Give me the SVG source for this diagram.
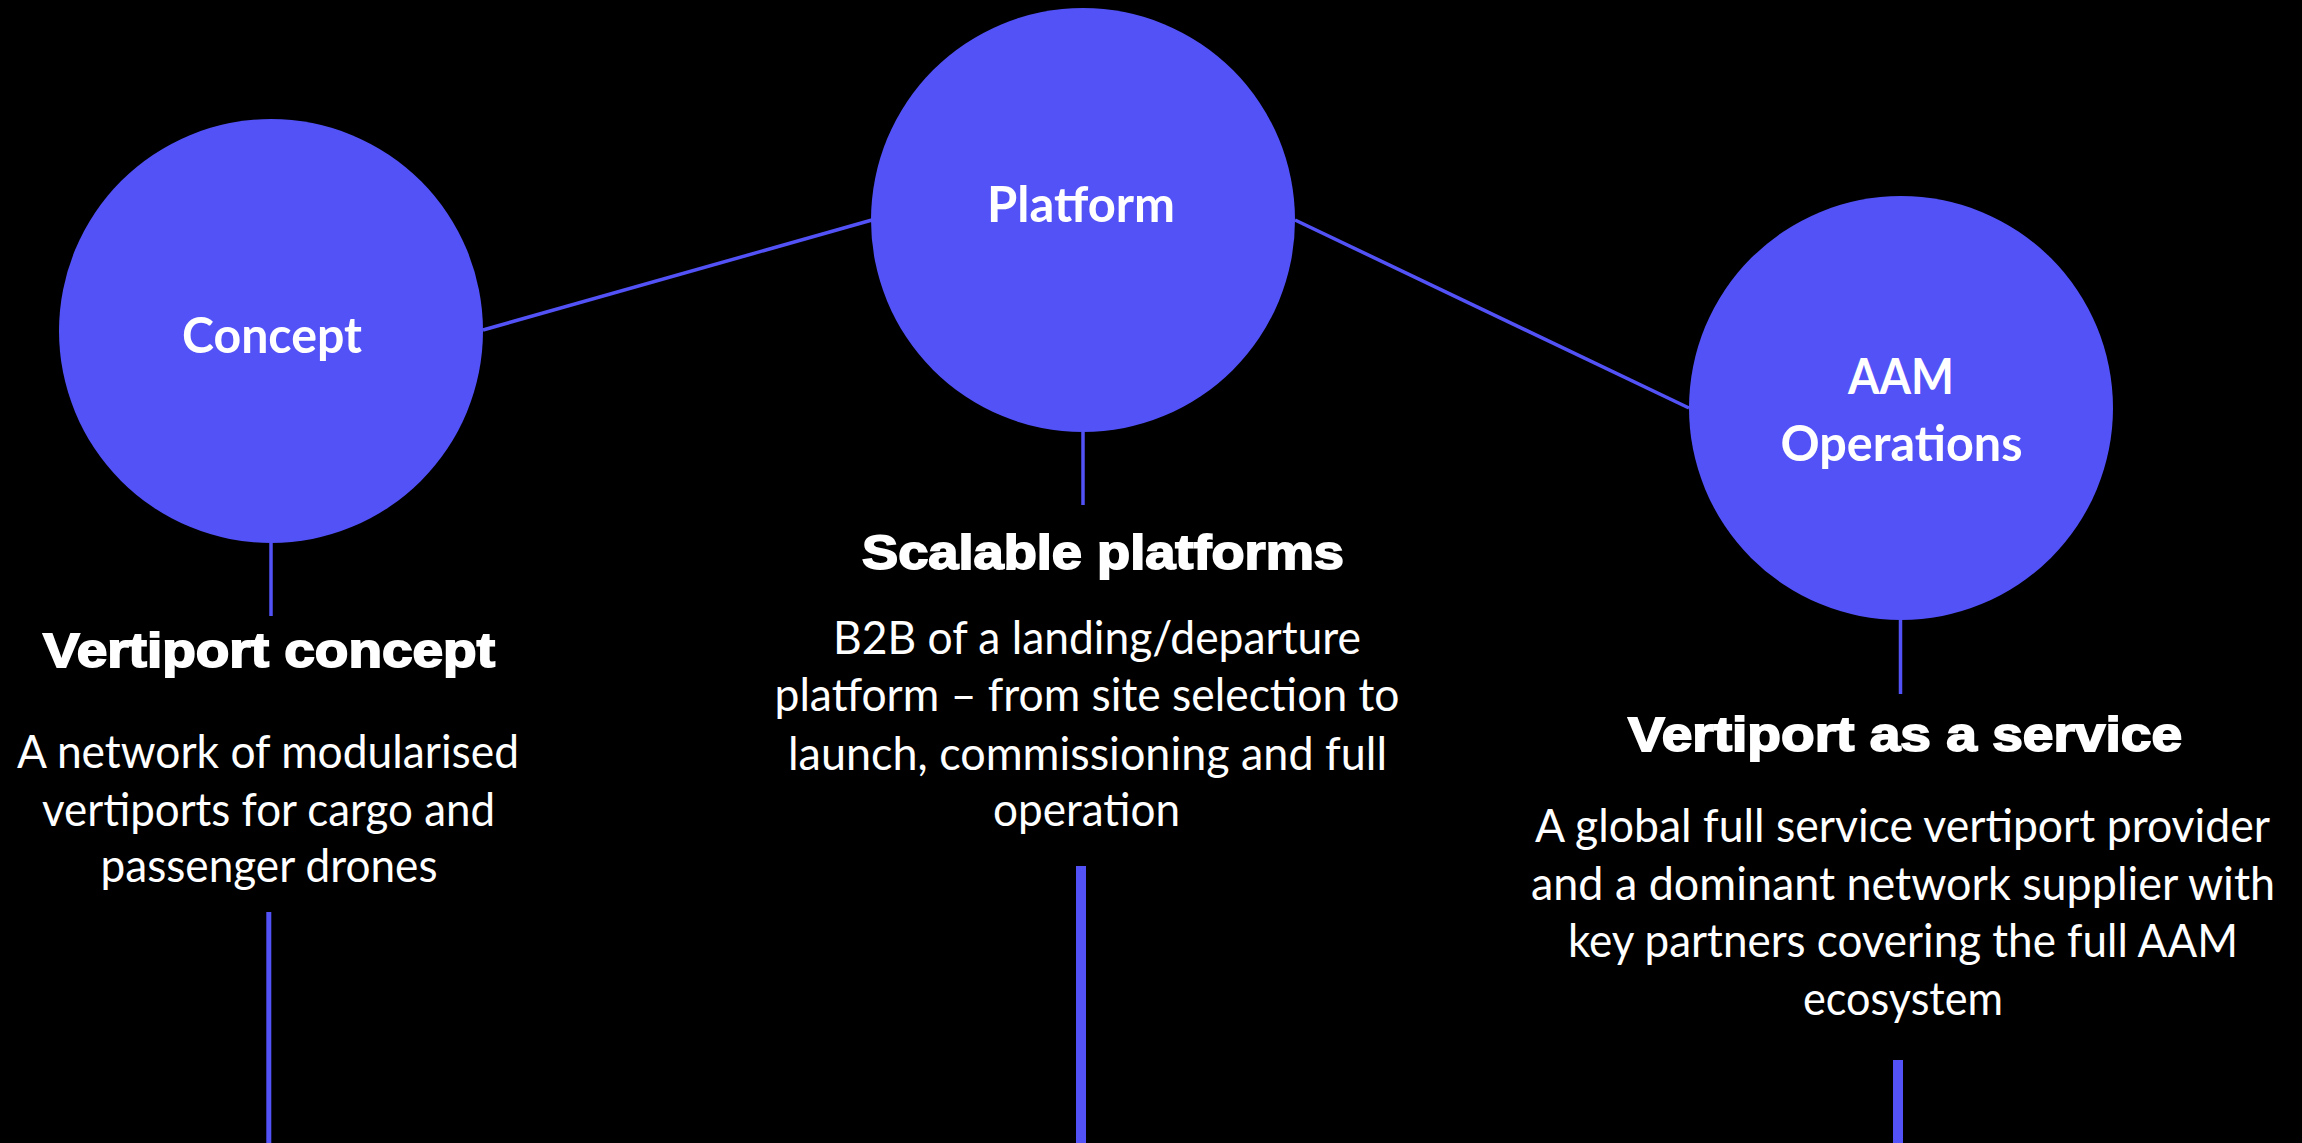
<svg xmlns="http://www.w3.org/2000/svg" width="2302" height="1143" viewBox="0 0 2302 1143">
  <style>
    .bg { fill: #000000; }
    .node { fill: #5252F7; }
    .conn { stroke: #5252F7; fill: none; }
    .thin { stroke-width: 3.5; }
    .thick5 { stroke-width: 5; }
    .thick10 { stroke-width: 10; }
    .label { font-family: Lato, "Liberation Sans", sans-serif; font-weight: bold; font-size: 50px; fill: #FFFFFF; text-anchor: middle; }
    .head { font-family: "Liberation Sans", Arial, sans-serif; font-weight: bold; font-size: 49px; fill: #FFFFFF; stroke: #FFFFFF; stroke-width: 1.8; text-anchor: middle; }
    .body { font-family: Lato, "Liberation Sans", sans-serif; font-size: 46px; fill: #FFFFFF; text-anchor: middle; }
  </style>
  <rect class="bg" x="0" y="0" width="2302" height="1143"/>

  <g id="connectors">
    <line class="conn thin" x1="483" y1="330" x2="872" y2="220"/>
    <line class="conn thin" x1="1295" y1="220" x2="1689" y2="408"/>
    <line class="conn thin" x1="271" y1="543" x2="271" y2="616"/>
    <line class="conn thin" x1="1083" y1="432" x2="1083" y2="505"/>
    <line class="conn thin" x1="1900.5" y1="620" x2="1900.5" y2="694"/>
    <line class="conn thick5" x1="268.8" y1="912" x2="268.8" y2="1143"/>
    <line class="conn thick10" x1="1081" y1="866" x2="1081" y2="1143"/>
    <line class="conn thick10" x1="1898" y1="1060" x2="1898" y2="1143"/>
  </g>

  <g id="node-concept">
    <circle class="node" cx="271" cy="331" r="212"/>
    <text class="label" x="272" y="353" textLength="180" lengthAdjust="spacingAndGlyphs">Concept</text>
  </g>

  <g id="node-platform">
    <circle class="node" cx="1083" cy="220" r="212"/>
    <text class="label" x="1081" y="222" textLength="188" lengthAdjust="spacingAndGlyphs">Platform</text>
  </g>

  <g id="node-aam">
    <circle class="node" cx="1901" cy="408" r="212"/>
    <text class="label" x="1901" y="394" textLength="106" lengthAdjust="spacingAndGlyphs">AAM</text>
    <text class="label" x="1901.5" y="461" textLength="242" lengthAdjust="spacingAndGlyphs">Operations</text>
  </g>

  <g id="text-concept">
    <text class="head" x="269" y="667" textLength="452" lengthAdjust="spacingAndGlyphs">Vertiport concept</text>
    <text class="body" x="268" y="768" textLength="502" lengthAdjust="spacingAndGlyphs">A network of modularised</text>
    <text class="body" x="268.5" y="826" textLength="453" lengthAdjust="spacingAndGlyphs">vertiports for cargo and</text>
    <text class="body" x="269" y="882" textLength="337" lengthAdjust="spacingAndGlyphs">passenger drones</text>
  </g>

  <g id="text-platform">
    <text class="head" x="1103" y="569" textLength="482" lengthAdjust="spacingAndGlyphs">Scalable platforms</text>
    <text class="body" x="1097" y="654" textLength="528" lengthAdjust="spacingAndGlyphs">B2B of a landing/departure</text>
    <text class="body" x="1087" y="711" textLength="625" lengthAdjust="spacingAndGlyphs">platform – from site selection to</text>
    <text class="body" x="1087.5" y="769.5" textLength="599" lengthAdjust="spacingAndGlyphs">launch, commissioning and full</text>
    <text class="body" x="1086.5" y="826" textLength="187" lengthAdjust="spacingAndGlyphs">operation</text>
  </g>

  <g id="text-aam">
    <text class="head" x="1905" y="751" textLength="554" lengthAdjust="spacingAndGlyphs">Vertiport as a service</text>
    <text class="body" x="1902.5" y="842" textLength="735" lengthAdjust="spacingAndGlyphs">A global full service vertiport provider</text>
    <text class="body" x="1903" y="899.5" textLength="744" lengthAdjust="spacingAndGlyphs">and a dominant network supplier with</text>
    <text class="body" x="1903" y="956.6" textLength="670" lengthAdjust="spacingAndGlyphs">key partners covering the full AAM</text>
    <text class="body" x="1903" y="1015" textLength="200" lengthAdjust="spacingAndGlyphs">ecosystem</text>
  </g>
</svg>
